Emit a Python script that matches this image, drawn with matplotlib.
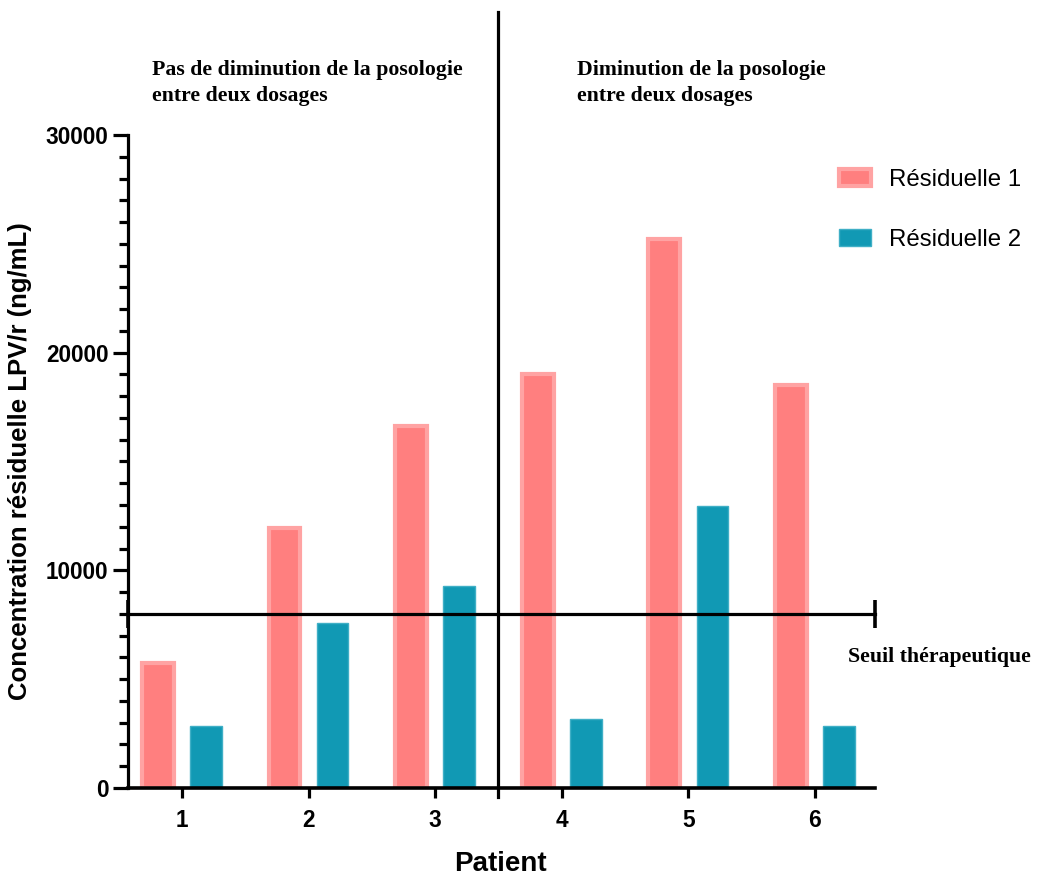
import matplotlib.pyplot as plt
import numpy as np
from matplotlib.ticker import MultipleLocator

patients = ["1", "2", "3", "4", "5", "6"]
residuelle1 = [5750, 11950, 16650, 19000, 25200, 18500]
residuelle2 = [2850, 7600, 9300, 3150, 12950, 2850]
seuil = 8000

x = np.arange(1, len(patients) + 1)
sans = ["Liberation Sans", "DejaVu Sans"]
serif = ["Liberation Serif", "DejaVu Serif"]

fig = plt.figure(figsize=(10.42, 8.77), dpi=100)
ax = fig.add_axes([0.1228, 0.1015, 0.7169, 0.7446])

w = 0.25
off = 0.19
ax.bar(x - off, residuelle1, w, color="#FF7F7F", edgecolor="#FFA3A3", linewidth=3,
       label="Résiduelle 1", zorder=2)
ax.bar(x + off, residuelle2, w, color="#1199B4", edgecolor="#3FAFC6", linewidth=1,
       label="Résiduelle 2", zorder=2)

ax.set_xlim(0.573, 6.474)
ax.set_ylim(0, 30000)

# ligne du seuil avec les barres aux extremites
xl = ax.get_xlim()
ax.plot(xl, [seuil, seuil], color="black", lw=2.3, zorder=3, clip_on=False)
ax.plot(xl, [seuil, seuil], ls="none", marker="|", markersize=20, mew=2.6,
        color="black", zorder=3, clip_on=False)

# separation verticale
ax.axvline(3.5, ymin=-0.014, ymax=1.188, color="black", lw=2.3, clip_on=False, zorder=3)

for s in ["top", "right"]:
    ax.spines[s].set_visible(False)
ax.spines["left"].set_linewidth(2.3)
ax.spines["bottom"].set_linewidth(2.6)

ax.yaxis.set_major_locator(MultipleLocator(10000))
ax.yaxis.set_minor_locator(MultipleLocator(1000))
ax.tick_params(axis="y", which="major", length=11, width=2.3, labelsize=16.3, pad=3)
ax.tick_params(axis="y", which="minor", length=6.5, width=2.3)
ax.set_xticks(x)
ax.set_xticklabels(patients)
ax.tick_params(axis="x", length=7, width=2.3, labelsize=16.3, pad=8)
for lab in ax.get_xticklabels() + ax.get_yticklabels():
    lab.set_fontweight("bold")
    lab.set_family(sans)

ax.set_ylabel("Concentration résiduelle LPV/r (ng/mL)", fontsize=18.5, fontweight="bold",
              family=sans)
ax.yaxis.set_label_coords(-0.128, 0.5)
fig.text(500 / 1042, 1 - 864 / 877, "Patient", fontsize=20, fontweight="bold",
         family=sans, ha="center", va="center")

fig.text(152 / 1042, 1 - 60 / 877, "Pas de diminution de la posologie\nentre deux dosages",
         fontsize=15.7, fontweight="bold", family=serif, va="top", ha="left", linespacing=1.42)
fig.text(577 / 1042, 1 - 60 / 877, "Diminution de la posologie\nentre deux dosages",
         fontsize=15.7, fontweight="bold", family=serif, va="top", ha="left", linespacing=1.42)
fig.text(848 / 1042, 1 - 657 / 877, "Seuil thérapeutique",
         fontsize=15.7, fontweight="bold", family=serif, va="center", ha="left")

ax.legend(loc="upper left", bbox_to_anchor=(817 / 1042, 1 - 147 / 877),
          bbox_transform=fig.transFigure, frameon=False,
          prop={"family": sans, "size": 17.3},
          labelspacing=1.6, handlelength=1.35, handleheight=0.7, handletextpad=0.75)

fig.savefig("out.png", dpi=100)
